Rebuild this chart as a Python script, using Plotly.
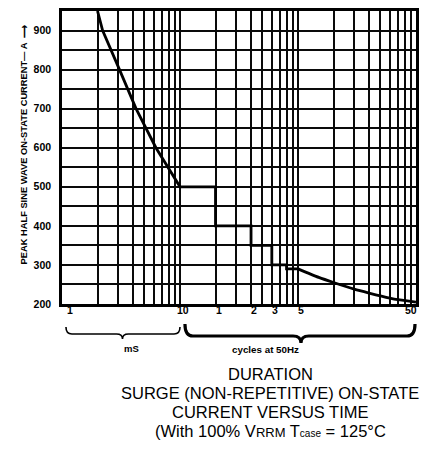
import numpy as np
import plotly.graph_objects as go

# ---- data (time in ms; 1 cycle at 50 Hz = 20 ms) ----
time_ms = [2.0, 2.21, 3.07, 4.24, 6.25, 8.1, 10, 20, 20, 40, 40, 60, 60, 80, 80, 100]
current_a = [950, 900, 800, 700, 600, 545, 500, 500, 400, 400, 350, 350, 300, 300, 290, 290]
tail_ms = [100, 150, 200, 300, 400, 600, 700, 1000]
tail_a = [290, 268, 255, 238, 228, 215, 211, 205]

y_ticks = [200, 300, 400, 500, 600, 700, 800, 900]
x_label_ms = [1, 10, 20, 40, 60, 100, 1000]
x_label_text = ["1", "10", "1", "2", "3", "5", "50"]

# ---- layout helpers (pixel -> paper) ----
L, R, T, B = 62, 419, 11, 304
W, H = 425, 462
def px(x):
    return (x - L) / (R - L)
def py(y):
    return (B - y) / (B - T)

fig = go.Figure()
fig.add_trace(go.Scatter(x=time_ms, y=current_a, mode="lines",
                         line=dict(color="black", width=2.8), showlegend=False))
fig.add_trace(go.Scatter(x=tail_ms, y=tail_a, mode="lines",
                         line=dict(color="black", width=2.8, shape="spline", smoothing=0.6),
                         showlegend=False))

grid_x = [d * 10 ** k for k in range(3) for d in range(1, 10)] + [1000]
grid_y = list(range(200, 951, 50))
fig.update_xaxes(type="log", range=[0, 3], tickvals=grid_x, showticklabels=False,
                 showgrid=True, gridcolor="#0a0a0a", gridwidth=1.9, ticks="",
                 showline=True, mirror=True, linecolor="black", linewidth=2.6, zeroline=False)
fig.update_yaxes(range=[200, 950], tickvals=grid_y,
                 ticktext=[str(v) if v in y_ticks else "" for v in grid_y],
                 showgrid=True, gridcolor="#0a0a0a", gridwidth=1.9, ticks="",
                 ticklabelstandoff=6,
                 tickfont=dict(family="Liberation Sans", size=10.5, color="black", weight="bold"),
                 showline=True, mirror=True, linecolor="black", linewidth=2.6, zeroline=False)

ann = []
for i, (v, t) in enumerate(zip(x_label_ms, x_label_text)):
    shift = 8 if i == 0 else (-5 if i == len(x_label_ms) - 1 else 3)
    ann.append(dict(x=np.log10(v), y=py(318), xref="x", yref="paper", text=t,
                    showarrow=False, xshift=shift,
                    font=dict(family="Liberation Sans", size=10.5, color="black", weight="bold")))
ann.append(dict(x=px(17), y=py(144), xref="paper", yref="paper", textangle=-90,
                text="PEAK HALF SINE WAVE ON-STATE CURRENT\u2014 A &nbsp;\u27F6",
                showarrow=False,
                font=dict(family="Liberation Sans", size=9.3, color="black", weight="bold")))
ann.append(dict(x=px(123), y=py(356), xref="paper", yref="paper", text="mS", showarrow=False,
                font=dict(family="Liberation Sans", size=9.5, color="black", weight="bold")))
ann.append(dict(x=px(303), y=py(357), xref="paper", yref="paper", text="cycles at 50Hz",
                showarrow=False,
                font=dict(family="Liberation Sans", size=9.8, color="black", weight="bold")))
title_lines = ["DURATION", "SURGE (NON-REPETITIVE) ON-STATE", "CURRENT VERSUS TIME",
               "(With 100% V<span style='font-size:13px'>RRM</span> T<span style='font-size:10px'>case</span> = 125°C"]
for i, t in enumerate(title_lines):
    ann.append(dict(x=px(272), y=py(385 + 19 * i), xref="paper", yref="paper", text=t,
                    showarrow=False,
                    font=dict(family="Liberation Sans", size=16.5, color="black")))

def brace(x0, x1, xc, y0, ym, yb, r):
    path = f"M {px(x0)},{py(y0)} Q {px(x0)},{py(ym)} {px(x0 + r)},{py(ym)} "
    path += f"L {px(xc - r)},{py(ym)} Q {px(xc)},{py(ym)} {px(xc)},{py(yb)} "
    path += f"Q {px(xc)},{py(ym)} {px(xc + r)},{py(ym)} "
    path += f"L {px(x1 - r)},{py(ym)} Q {px(x1)},{py(ym)} {px(x1)},{py(y0)}"
    return path

shapes = [
    dict(type="path", xref="paper", yref="paper", path=brace(66, 181, 123, 327, 334, 339, 6),
         line=dict(color="black", width=1.6)),
    dict(type="path", xref="paper", yref="paper", path=brace(186, 418, 303, 324, 336, 343, 8),
         line=dict(color="black", width=3.2)),
]

fig.update_layout(width=W, height=H, margin=dict(l=L, r=W - R, t=T, b=H - B),
                  paper_bgcolor="white", plot_bgcolor="white",
                  annotations=ann, shapes=shapes, showlegend=False)
fig.write_html("out.html", config={"displayModeBar": False},
               post_script="document.body.style.margin='0';document.body.style.overflow='hidden';")
